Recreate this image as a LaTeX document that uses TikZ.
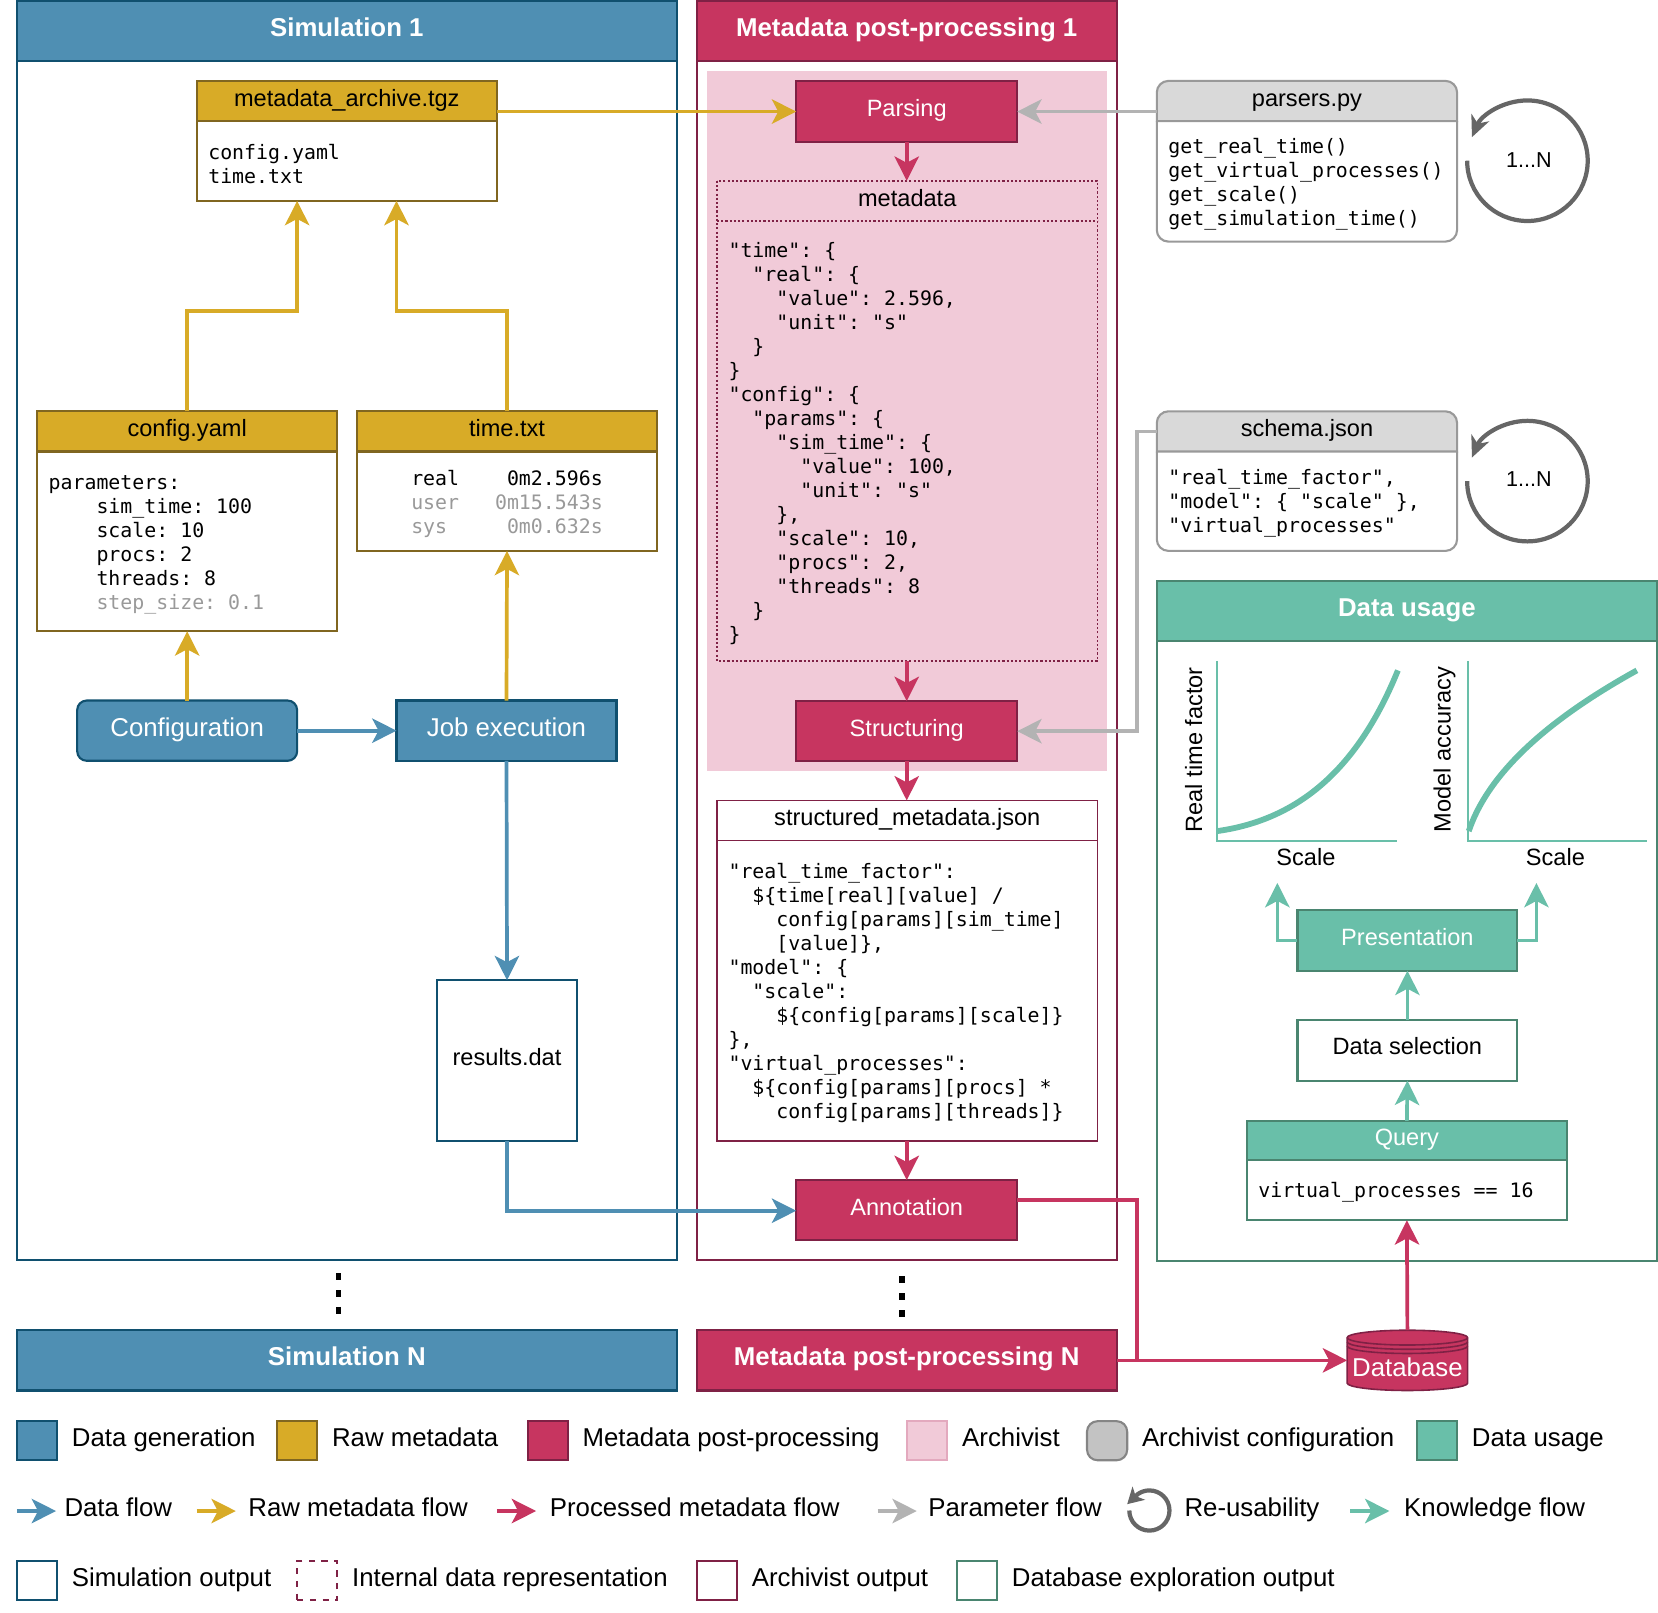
\documentclass[tikz,border=0pt]{standalone}
\usepackage{fontspec}
\setmainfont{Liberation Sans}
\setmonofont{DejaVu Sans Mono}
\usetikzlibrary{arrows.meta,backgrounds,positioning}
\definecolor{simfill}{HTML}{4F8FB3}
\definecolor{simline}{HTML}{10506F}
\definecolor{rawfill}{HTML}{D8AB27}
\definecolor{rawline}{HTML}{806620}
\definecolor{procfill}{HTML}{C73560}
\definecolor{procline}{HTML}{7F2145}
\definecolor{archfill}{HTML}{F1CAD8}
\definecolor{archline}{HTML}{E3A9BE}
\definecolor{cfgfill}{HTML}{D9D9D9}
\definecolor{cfgline}{HTML}{999999}
\definecolor{usefill}{HTML}{69BFA9}
\definecolor{useline}{HTML}{4A8570}
\definecolor{paramgrey}{HTML}{B3B3B3}
\definecolor{loopgrey}{HTML}{666666}
\definecolor{faded}{HTML}{999999}

\begin{document}
\begin{tikzpicture}
      [x=1pt, y=-1pt, >={Stealth[length=23pt,width=23pt,inset=6pt]},
      every node/.style={outer sep=0pt, font=\fontsize{22.3}{26}\selectfont},
      largefont/.style={font=\fontsize{24.4}{29}\selectfont},
      titlefont/.style={font=\fontsize{24.4}{29}\selectfont\bfseries},
      monofont/.style={font=\fontsize{18.8}{22.7}\selectfont\ttfamily},
      centered/.style={text height=17pt, text depth=7pt},
      thinbox/.style={rectangle, draw, line width=2pt, minimum width=#1},
      simtitle/.style={thinbox=#1, fill=simfill, draw=simline, text=white, titlefont,
        centered, minimum height=57pt},
      proctitle/.style={thinbox=#1, fill=procfill, draw=procline, text=white, titlefont,
        centered, minimum height=57pt},
      usetitle/.style={thinbox=#1, fill=usefill, draw=useline, text=white, titlefont,
        centered, minimum height=57pt},
      simstep/.style={thinbox=208pt, fill=simfill, draw=simline, text=white, largefont,
        text height=18pt, text depth=7pt, minimum height=57pt},
      procstep/.style={thinbox=209pt, fill=procfill, draw=procline, text=white,
        centered, minimum height=57pt},
      usestep/.style={thinbox=208pt, fill=usefill, draw=useline, text=white,
        centered, minimum height=57pt},
      headbox/.style={thinbox=#1, centered, minimum height=38pt},
      monotext/.style={monofont, inner xsep=11pt, inner ysep=0pt,
        execute at begin node={\rule{0pt}{19pt}}},
      listbox/.style={thinbox=#1, monotext, text width=#1-22pt, align=flush left},
      rawhead/.style={headbox=284pt, fill=rawfill, draw=rawline},
      rawlist/.style={listbox=284pt, draw=rawline},
      cfghead/.style={rectangle, minimum width=284pt, minimum height=38pt, centered},
      cfglist/.style={rectangle, monotext, text width=262pt, minimum width=284pt, align=flush left},
      dataflow/.style={->, draw=simfill, line width=3.5pt},
      rawflow/.style={->, draw=rawfill, line width=3.5pt},
      procflow/.style={->, draw=procfill, line width=3.5pt},
      paramflow/.style={->, draw=paramgrey, line width=3.5pt},
      useflow/.style={->, draw=usefill, line width=3.5pt},
      reuse/.style={draw=loopgrey, line width=4pt, -{Stealth[length=20pt,width=18pt,inset=6pt]}},
      axisline/.style={draw=usefill, line width=2pt},
      curveline/.style={draw=usefill, line width=5.5pt},
      ellipsisline/.style={line width=5pt, dash pattern=on 6.5pt off 9.5pt},
      internalline/.style={draw=procline, line width=1.5pt, dash pattern=on 2pt off 2pt},
      legendbox/.style={rectangle, draw, line width=2pt, minimum width=38pt, minimum height=37pt},
      legendtext/.style={inner sep=0pt, largefont, text height=17pt, text depth=7pt}]

      \useasboundingbox (0,0) rectangle (1568,1524.5);

      % simulation column
      \node [simtitle=624pt] (simhead) at (328,29.5) {Simulation 1};
      \node [thinbox=624pt, draw=simline, minimum height=1134pt, below=0pt of simhead] (simframe) {};
      \node [simtitle=624pt] (simlast) at (328,1286.5) {Simulation N};

      \node [rawhead] (archivehead) at (328,95.5) {metadata\_archive.tgz};
      \node [rawlist, minimum height=76pt, below=0pt of archivehead] (archivebody) {config.yaml\\time.txt};
      \node [rawhead] (confighead) at (177,408) {config.yaml};
      \node [rawlist, minimum height=170pt, below=0pt of confighead] (configbody)
      {parameters:\\
        ~~~~sim\_time: 100\\
        ~~~~scale: 10\\
        ~~~~procs: 2\\
        ~~~~threads: 8\\
        ~~~~\textcolor{faded}{step\_size: 0.1}};
      \node [rawhead] (timehead) at (479.5,408) {time.txt};
      \node [rawlist, align=flush center, minimum height=94pt, below=0pt of timehead] (timebody)
      {real~~~~0m2.596s\\
        \textcolor{faded}{user~~~0m15.543s}\\
        \textcolor{faded}{sys~~~~~0m0.632s}};

      \node [simstep, rounded corners=9pt] (configuration) at (177,691) {Configuration};
      \node [simstep, right=94pt of configuration] (job) {Job execution};
      \node [thinbox=133pt, draw=simline, centered, minimum height=152pt] (results) at (479.5,1003) {results.dat};

      % post-processing column
      \node [proctitle=397pt] (prochead) at (857.5,29.5) {Metadata post-processing 1};
      \node [thinbox=397pt, draw=procline, minimum height=1134pt, below=0pt of prochead] (procframe) {};
      \node [proctitle=397pt] (proclast) at (857.5,1286.5) {Metadata post-processing N};
      \node [rectangle, fill=archfill, minimum width=378pt, minimum height=662pt] (archivist) at (858,398) {};

      \node [procstep] (parsing) at (857.5,105.5) {Parsing};
      \node [rectangle, minimum width=360pt, centered, minimum height=38pt] (metahead) at (858,190) {metadata};
      \node [rectangle, monotext, text width=338pt, align=flush left, minimum width=360pt, minimum height=416pt,
        below=0pt of metahead] (metabody)
      {"time": \{\\
        ~~"real": \{\\
        ~~~~"value": 2.596,\\
        ~~~~"unit": "s"\\
        ~~\}\\
        \}\\
        "config": \{\\
        ~~"params": \{\\
        ~~~~"sim\_time": \{\\
        ~~~~~~"value": 100,\\
        ~~~~~~"unit": "s"\\
        ~~~~\},\\
        ~~~~"scale": 10,\\
        ~~~~"procs": 2,\\
        ~~~~"threads": 8\\
        ~~\}\\
        \}};
      \draw [internalline] (metahead.north west) rectangle (metabody.south east);
      \draw [internalline] (metahead.south west) -- (metahead.south east);
      \node [procstep] (structuring) at (857.5,691.5) {Structuring};
      \node [thinbox=360pt, draw=procline, line width=1.5pt, centered, minimum height=38pt]
      (jsonhead) at (858,776) {structured\_metadata.json};
      \node [thinbox=360pt, draw=procline, line width=1.5pt, monotext, text width=338pt,
        align=flush left, minimum height=284pt, below=0pt of jsonhead] (jsonbody)
      {"real\_time\_factor":\\
        ~~\$\{time[real][value] /\\
        ~~~~config[params][sim\_time]\\
        ~~~~[value]\},\\
        "model": \{\\
        ~~"scale":\\
        ~~~~\$\{config[params][scale]\}\\
        \},\\
        "virtual\_processes":\\
        ~~\$\{config[params][procs] *\\
        ~~~~config[params][threads]\}};
      \node [procstep] (annotation) at (857.5,1144.5) {Annotation};

      % archivist configuration
      \node [cfghead] (parsershead) at (1236,95.5) {parsers.py};
      \node [cfglist, minimum height=114pt, below=0pt of parsershead] (parsersbody)
      {get\_real\_time()\\
        get\_virtual\_processes()\\
        get\_scale()\\
        get\_simulation\_time()};
      \node [cfghead] (schemahead) at (1236,408) {schema.json};
      \node [cfglist, minimum height=94pt, below=0pt of schemahead] (schemabody)
      {"real\_time\_factor",\\
        "model": \{ "scale" \},\\
        "virtual\_processes"};
      \begin{scope}[on background layer]
        \foreach \cfgname in {parsers,schema} {
          \draw [draw=cfgline, line width=2pt, fill=cfgfill, rounded corners=11pt]
          (\cfgname head.south west) -- (\cfgname head.north west)
          -- (\cfgname head.north east) [sharp corners] -- (\cfgname head.south east) -- cycle;
          \draw [draw=cfgline, line width=2pt, rounded corners=11pt]
          (\cfgname head.south west) -- (\cfgname body.south west)
          -- (\cfgname body.south east) -- (\cfgname head.south east);
        }
      \end{scope}

      \node (parsersloop) at (1446,151) {\fontsize{20.4}{24}\selectfont 1...N};
      \node (schemaloop) at (1446,453) {\fontsize{20.4}{24}\selectfont 1...N};
      \coordinate (parsersstart) at (1387.5,152);
      \coordinate (schemastart) at (1387.5,455);
      \draw [reuse] (parsersstart) arc[start angle=180, end angle=-157, radius=57];
      \draw [reuse] (schemastart) arc[start angle=180, end angle=-157, radius=57];

      % data usage
      \node [usetitle=473pt] (usehead) at (1330.5,578) {Data usage};
      \node [thinbox=473pt, draw=useline, minimum height=586pt, below=0pt of usehead] (useframe) {};

      \draw [axisline] (1151,625) -- (1151,795) -- (1321,795);
      \draw [curveline] (1151,786) .. controls (1230,775) and (1285,725) .. (1322,634);
      \node [rotate=90] (realaxis) at (1129,709) {Real time factor};
      \node (scaleleft) at (1235,811) {Scale};
      \draw [axisline] (1388,625) -- (1388,795) -- (1558,795);
      \draw [curveline] (1389,786) .. controls (1408,730) and (1465,680) .. (1548,634);
      \node [rotate=90] (accuracyaxis) at (1366,709) {Model accuracy};
      \node (scaleright) at (1471,811) {Scale};

      \node [usestep] (presentation) at (1331,889.5) {Presentation};
      \node [thinbox=208pt, draw=useline, text height=16pt, text depth=8pt, minimum height=57pt] (selection) at (1331,993.5) {Data selection};
      \node [thinbox=303pt, fill=usefill, draw=useline, text=white, centered, minimum height=37pt]
      (queryhead) at (1330.5,1078.5) {Query};
      \node [thinbox=303pt, draw=useline, monotext, text width=281pt,
        align=flush left, minimum height=57pt, below=0pt of queryhead] (querybody) {virtual\_processes == 16};

      \node [rectangle, text=white, largefont, minimum width=114pt, minimum height=57pt,
        text height=31pt, text depth=0pt] (database) at (1331,1286.5) {Database};
      \begin{scope}[on background layer]
        \draw [draw=procline, line width=1.5pt, fill=procfill]
        ([yshift=-7pt]database.north west) arc[start angle=180, end angle=360, x radius=57, y radius=7]
        -- ([yshift=7pt]database.south east) arc[start angle=0, end angle=180, x radius=57, y radius=7] -- cycle;
        \foreach \stripe in {7,11,15} {
          \draw [draw=procline, line width=1.5pt] ([yshift=-\stripe pt]database.north west)
          arc[start angle=180, end angle=0, x radius=57, y radius=7];
        }
      \end{scope}

      % flows
      \coordinate (archiveinleft) at (281,190);
      \coordinate (archiveinright) at (375,190);
      \coordinate (kneeleft) at (281,294);
      \coordinate (kneeright) at (375,294);
      \coordinate (schemaknee) at (1075,691.5);
      \coordinate (annotationout) at (962,1135);
      \coordinate (annotationknee) at (1075,1286.5);
      \coordinate (resultsknee) at (753,1145);
      \coordinate (plotleft) at (1208,835);
      \coordinate (plotright) at (1453,835);

      \draw [rawflow] (confighead.north) |- (kneeleft) -- (archiveinleft);
      \draw [rawflow] (timehead.north) |- (kneeright) -- (archiveinright);
      \draw [rawflow] (configuration.north) -- (configbody.south);
      \draw [rawflow] (job.north) -- (timebody.south);
      \draw [rawflow] (parsing.west -| archivehead.east) -- (parsing.west);
      \draw [dataflow] (configuration.east) -- (job.west);
      \draw [dataflow] (job.south) -- (results.north);
      \draw [dataflow] (results.south) |- (resultsknee);
      \draw [procflow] (parsing.south) -- (parsing.south |- metahead.north);
      \draw [procflow] (structuring.north |- metabody.south) -- (structuring.north);
      \draw [procflow] (structuring.south) -- (structuring.south |- jsonhead.north);
      \draw [procflow] (annotation.north |- jsonbody.south) -- (annotation.north);
      \draw [procflow, -] (annotationout) -| (annotationknee);
      \draw [procflow] (proclast.east) -- (database.west);
      \draw [procflow] (database.north) -- (querybody.south);
      \draw [paramflow] (parsing.east -| parsershead.west) -- (parsing.east);
      \draw [paramflow] (schemahead.west) -| (schemaknee) -- (structuring.east);
      \draw [useflow] (queryhead.north) -- (selection.south);
      \draw [useflow] (selection.north) -- (presentation.south);
      \draw [useflow] (presentation.west) -| (plotleft);
      \draw [useflow] (presentation.east) -| (plotright);

      \coordinate (simdotstop) at (320,1204);
      \coordinate (simdotsend) at (320,1244);
      \coordinate (procdotstop) at (853,1207);
      \coordinate (procdotsend) at (853,1247);
      \draw [ellipsisline] (simdotstop) -- (simdotsend);
      \draw [ellipsisline] (procdotstop) -- (procdotsend);

      % legend, first row
      \node [legendbox, fill=simfill, draw=simline] (legdata) at (35,1362.5) {};
      \node [legendtext, right=14pt of legdata] (legdatatext) {Data generation};
      \node [legendbox, fill=rawfill, draw=rawline] (legraw) at (281,1362.5) {};
      \node [legendtext, right=14pt of legraw] (legrawtext) {Raw metadata};
      \node [legendbox, fill=procfill, draw=procline] (legproc) at (518,1362.5) {};
      \node [legendtext, right=14pt of legproc] (legproctext) {Metadata post-processing};
      \node [legendbox, fill=archfill, draw=archline] (legarch) at (877,1362.5) {};
      \node [legendtext, right=14pt of legarch] (legarchtext) {Archivist};
      \node [legendbox, fill=cfgfill!90!black, draw=loopgrey!80, rounded corners=10pt] (legcfg) at (1047,1362.5) {};
      \node [legendtext, right=14pt of legcfg] (legcfgtext) {Archivist configuration};
      \node [legendbox, fill=usefill, draw=useline] (leguse) at (1359,1362.5) {};
      \node [legendtext, right=14pt of leguse] (legusetext) {Data usage};

      % legend, second row
      \foreach \flowname/\flowstyle/\flowx/\flowgap/\flowtext in
      {data/dataflow/16/8/Data flow, raw/rawflow/186/12/Raw metadata flow,
        proc/procflow/470/13/Processed metadata flow, param/paramflow/830/11/Parameter flow,
        know/useflow/1277/14/Knowledge flow} {
        \coordinate (\flowname from) at (\flowx,1429);
        \coordinate [right=37pt of \flowname from] (\flowname to);
        \draw [\flowstyle] (\flowname from) -- (\flowname to);
        \node [legendtext, right=\flowgap pt of \flowname to] (\flowname label) {\flowtext};
      }
      \coordinate (reusestart) at (1068,1428.5);
      \coordinate (reusetip) at (1066,1422.5);
      \draw [draw=loopgrey, line width=4pt, -{Stealth[length=15pt,width=17pt,inset=4pt]}]
      (reusestart) arc[start angle=180, end angle=-125, radius=19] -- (reusetip);
      \node [legendtext] (reuselabel) at (1184,1429) {Re-usability};

      % legend, third row
      \node [legendbox, draw=simline] (legsim) at (35,1494.5) {};
      \node [legendtext, yshift=-1pt, right=14pt of legsim] (legsimtext) {Simulation output};
      \node [legendbox, draw=procline, dash pattern=on 6pt off 6pt] (leginternal) at (300,1494.5) {};
      \node [legendtext, yshift=-1pt, right=14pt of leginternal] (leginternaltext) {Internal data representation};
      \node [legendbox, draw=procline] (legoutput) at (678,1494.5) {};
      \node [legendtext, yshift=-1pt, right=14pt of legoutput] (legoutputtext) {Archivist output};
      \node [legendbox, draw=useline] (legquery) at (924,1494.5) {};
      \node [legendtext, yshift=-1pt, right=14pt of legquery] (legquerytext) {Database exploration output};
    \end{tikzpicture}
\end{document}
